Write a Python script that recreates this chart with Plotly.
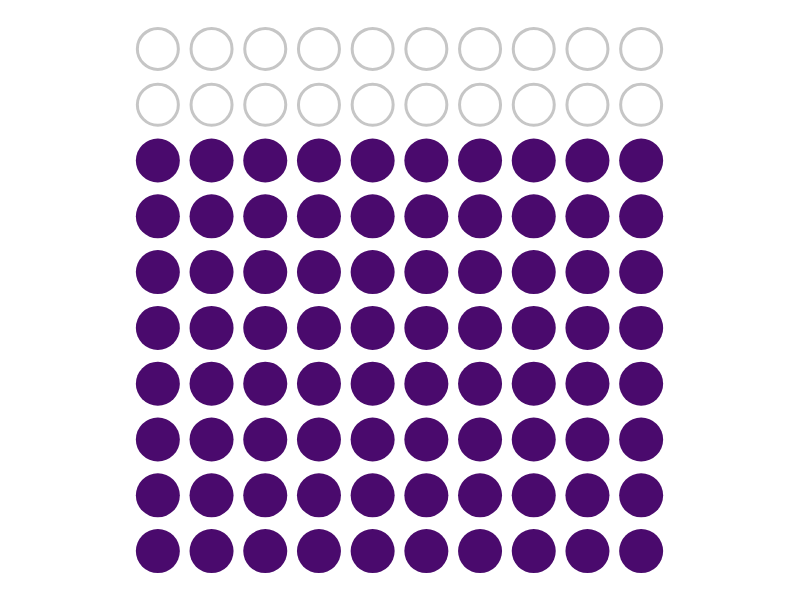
import plotly.graph_objects as go

n_cols = 10
n_rows = 10
filled_count = 80
total = 100

fx, fy, ex, ey = [], [], [], []
for i in range(total):
    r = i // n_cols
    c = i % n_cols
    if i < filled_count:
        fx.append(c); fy.append(r)
    else:
        ex.append(c); ey.append(r)

fig = go.Figure()
fig.add_trace(go.Scatter(x=fx, y=fy, mode="markers", hoverinfo="skip",
                         marker=dict(size=44, color="#4a0a6d", line=dict(width=0))))
fig.add_trace(go.Scatter(x=ex, y=ey, mode="markers", hoverinfo="skip",
                         marker=dict(size=41, color="rgba(0,0,0,0)",
                                     line=dict(width=3, color="#c6c6c6"))))
fig.update_layout(
    width=800, height=600, showlegend=False,
    paper_bgcolor="white", plot_bgcolor="white",
    margin=dict(l=131, r=132, t=21, b=21),
    xaxis=dict(range=[-0.5, 9.5], visible=False, fixedrange=True),
    yaxis=dict(range=[-0.5, 9.5], visible=False, fixedrange=True),
)
fig.write_html("out.html")
